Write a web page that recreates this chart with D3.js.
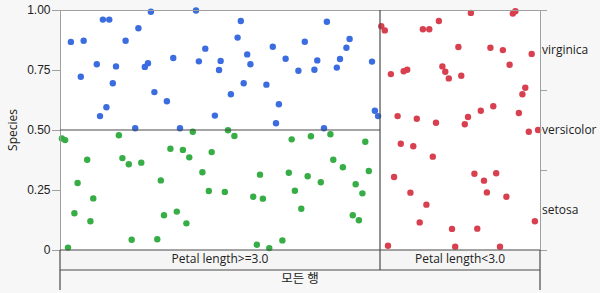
<!DOCTYPE html>
<html><head><meta charset="utf-8">
<script src="https://cdn.jsdelivr.net/npm/d3@7"></script>
<style>
html,body{margin:0;padding:0;background:#f7f7f7;}
svg{display:block;font-family:"Open Sans","Noto Sans","Noto Sans CJK KR",sans-serif;}
</style></head><body>
<svg id="chart" width="600" height="293"></svg>
<script>
// ---- data ----
const species = ["setosa", "versicolor", "virginica"];
const speciesShare = [1/3, 1/3, 1/3];
const yTicks = [0, 0.25, 0.5, 0.75, 1];
const yTickLabels = ["0", "0.25", "0.50", "0.75", "1.00"];
const partitions = ["Petal length>=3.0", "Petal length<3.0"];
const partitionRows = [100, 50];
const rootLabel = "모든 행";
const yTitle = "Species";
// left split boundary (versicolor / virginica) in the >=3.0 partition
const leftSplit = 0.5;

// [row position, response position]
const virginica = [
[28.4,0.993],[42.5,0.998],[13.4,0.960],[15.4,0.960],[24.5,0.924],[3.4,0.867],[7.4,0.872],[20.5,0.872],
[45.4,0.839],[35.4,0.800],[43.4,0.786],[50.2,0.788],[11.5,0.774],[17.5,0.765],[27.5,0.778],[26.5,0.763],
[49.7,0.750],[6.5,0.722],[16.5,0.695],[29.5,0.658],[33.4,0.620],[14.5,0.595],[12.5,0.558],[48.4,0.560],
[23.5,0.507],[37.5,0.507],[56.5,0.954],[83.4,0.951],[55.5,0.885],[90.5,0.879],[66.5,0.847],[76.5,0.868],
[89.5,0.843],[58.5,0.815],[59.5,0.774],[70.5,0.797],[80.4,0.790],[87.5,0.796],[97.5,0.785],[74.5,0.747],
[79.5,0.751],[86.5,0.760],[57.4,0.695],[64.5,0.689],[53.4,0.649],[68.4,0.607],[98.4,0.580],[99.4,0.558],
[67.5,0.528],[82.5,0.507]
];
const versicolor = [
[41.5,0.493],[0.6,0.465],[1.6,0.458],[18.4,0.478],[34.5,0.422],[38.4,0.417],[47.4,0.408],[40.4,0.386],
[8.5,0.376],[19.5,0.383],[21.5,0.357],[25.4,0.364],[44.5,0.324],[31.5,0.290],[5.5,0.279],[46.5,0.246],
[10.4,0.215],[4.5,0.153],[32.5,0.145],[36.5,0.160],[9.5,0.120],[39.5,0.111],[22.4,0.043],[30.4,0.045],
[2.5,0.010],[52.5,0.499],[54.5,0.475],[72.4,0.461],[78.4,0.474],[84.5,0.482],[95.4,0.451],[85.4,0.376],
[88.4,0.345],[96.5,0.329],[62.5,0.314],[71.5,0.322],[77.4,0.307],[81.5,0.282],[92.4,0.274],[51.5,0.242],
[60.4,0.222],[63.4,0.214],[73.4,0.247],[94.5,0.236],[75.4,0.172],[91.5,0.145],[93.4,0.124],[69.5,0.040],
[61.5,0.022],[65.4,0.008]
];
const setosa = [
[128.4,0.988],[141.5,0.985],[142.3,0.995],[118.4,0.954],[100.4,0.932],[101.5,0.915],[113.4,0.920],[115.4,0.920],
[124.5,0.846],[134.5,0.843],[138.4,0.833],[147.4,0.817],[119.5,0.765],[140.5,0.772],[103.4,0.733],[107.4,0.745],
[108.5,0.751],[120.4,0.743],[121.5,0.715],[125.4,0.726],[145.4,0.676],[144.5,0.649],[135.4,0.599],[131.5,0.580],
[105.5,0.558],[111.5,0.547],[127.5,0.554],[143.4,0.571],[117.5,0.530],[126.5,0.524],[146.5,0.493],[149.4,0.500],
[106.5,0.443],[110.4,0.432],[116.5,0.389],[104.4,0.304],[129.5,0.318],[132.5,0.289],[136.3,0.320],[109.5,0.239],
[133.4,0.240],[139.5,0.222],[114.5,0.189],[112.4,0.115],[122.5,0.088],[130.4,0.089],[148.4,0.120],[102.5,0.018],
[123.5,0.014],[137.5,0.014]
];
const colors = {setosa:"#d8404f", versicolor:"#36ad45", virginica:"#3b6ce0"};

// ---- drawing ----
const svg = d3.select("#chart");
const L = 60, R = 540, T = 10, B = 250;
const totalRows = d3.sum(partitionRows);
const x = d3.scaleLinear().domain([0, totalRows]).range([L, R]);
const y = d3.scaleLinear().domain([0, 1]).range([B, T]);
const dark = "#4a4a4a", grey = "#a0a0a0";

svg.append("rect").attr("width",600).attr("height",293).attr("fill","#f7f7f7");
svg.append("rect").attr("x",L).attr("y",T).attr("width",R-L).attr("height",B-T).attr("fill","#fff");

// partition label row background
svg.append("rect").attr("x",L).attr("y",B).attr("width",R-L).attr("height",20).attr("fill","#f5f5f5");

// points
const series = [["virginica",virginica],["versicolor",versicolor],["setosa",setosa]];
series.forEach(([name, pts]) => {
  svg.append("g").selectAll("circle").data(pts).join("circle")
    .attr("cx", d => x(d[0])).attr("cy", d => y(d[1])).attr("r", 3.2)
    .attr("fill", colors[name]);
});

// left axis
const la = svg.append("g").attr("transform",`translate(${L},0)`)
  .call(d3.axisLeft(y).tickValues(yTicks).tickFormat((d,i)=>yTickLabels[i]).tickSize(8).tickSizeOuter(0));
la.select(".domain").attr("stroke",grey);
la.selectAll(".tick line").attr("stroke",grey);
la.selectAll("text").attr("font-size",12).attr("fill","#222").attr("x",-9.5);

// top border
svg.append("line").attr("x1",L).attr("x2",R+7).attr("y1",T+0.5).attr("y2",T+0.5).attr("stroke",grey);

// right axis: species boundaries
const cum = [0]; speciesShare.forEach(s => cum.push(cum[cum.length-1]+s));
const ra = svg.append("g").attr("transform",`translate(${R},0)`)
  .call(d3.axisRight(y).tickValues(cum).tickFormat("").tickSize(7).tickSizeOuter(0));
ra.select(".domain").attr("stroke",grey);
ra.selectAll(".tick line").attr("stroke",grey);
species.forEach((s,i) => {
  svg.append("text").attr("x",R+2).attr("y",y((cum[i]+cum[i+1])/2)).attr("dy","0.35em")
    .attr("font-size",12).attr("fill","#222").text(s);
});

// partition lines
const splitX = x(partitionRows[0]);
svg.append("line").attr("x1",L).attr("x2",splitX).attr("y1",y(leftSplit)).attr("y2",y(leftSplit)).attr("stroke",dark).attr("stroke-width",1.2);
svg.append("line").attr("x1",splitX).attr("x2",splitX).attr("y1",T).attr("y2",B+20).attr("stroke",dark).attr("stroke-width",1.2);
svg.append("line").attr("x1",L).attr("x2",R).attr("y1",B).attr("y2",B).attr("stroke",dark).attr("stroke-width",1.2);
svg.append("line").attr("x1",L).attr("x2",R).attr("y1",B+20).attr("y2",B+20).attr("stroke",dark).attr("stroke-width",1.2);
svg.append("line").attr("x1",L).attr("x2",L).attr("y1",B).attr("y2",B+40).attr("stroke",dark).attr("stroke-width",1.2);
svg.append("line").attr("x1",R).attr("x2",R).attr("y1",B).attr("y2",B+40).attr("stroke",dark).attr("stroke-width",1.2);

// partition labels
let start = 0;
partitions.forEach((p,i) => {
  const cx = x(start + partitionRows[i]/2);
  svg.append("text").attr("x",cx).attr("y",B+9).attr("dy","0.35em").attr("text-anchor","middle")
    .attr("font-size",12).attr("fill","#222").text(p);
  start += partitionRows[i];
});
svg.append("text").attr("x",(L+R)/2).attr("y",B+28.5).attr("dy","0.35em").attr("text-anchor","middle")
  .attr("font-size",12.5).attr("fill","#222").attr("font-family","'Noto Sans CJK KR',sans-serif").text(rootLabel);

// y title
svg.append("text").attr("transform",`translate(17,${(T+B)/2}) rotate(-90)`).attr("text-anchor","middle")
  .attr("font-size",12).attr("fill","#222").text(yTitle);
</script>
</body></html>
